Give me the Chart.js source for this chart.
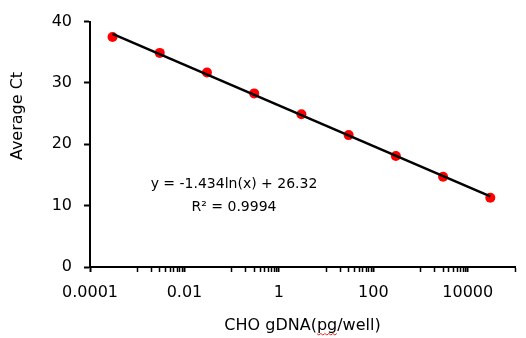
<!DOCTYPE html>
<html>
<head>
<meta charset="utf-8">
<script src="https://cdn.jsdelivr.net/npm/chart.js@4"></script>
<style>
  body { margin: 0; background: #fff; }
  #wrap { width: 526px; height: 338px; }
</style>
</head>
<body>
<div id="wrap"><canvas id="stdCurve" width="526" height="338"></canvas></div>
<script>
// CHO gDNA amount per well (pg) and measured average Ct
const gdnaAmounts = [0.0003, 0.003, 0.03, 0.3, 3, 30, 300, 3000, 30000];
const avgCt = [37.5, 34.9, 31.7, 28.3, 24.9, 21.5, 18.1, 14.7, 11.3];

// trendline ends as drawn on the chart
const trendX = [0.0003, 30000];
const trendY = [38.0, 11.5];

// axis ticks
const xMajorTicks = [0.0001, 0.01, 1, 100, 10000];
const xTickLabels = ["0.0001", "0.01", "1", "100", "10000"];
const xMinorTicks = [
  0.001, 0.002, 0.003, 0.004, 0.005, 0.006, 0.007, 0.008, 0.009,
  0.1, 0.2, 0.3, 0.4, 0.5, 0.6, 0.7, 0.8, 0.9,
  10, 20, 30, 40, 50, 60, 70, 80, 90,
  1000, 2000, 3000, 4000, 5000, 6000, 7000, 8000, 9000,
  100000,
];
const yTicks = [0, 10, 20, 30, 40];

const eqLines = ["y = -1.434ln(x) + 26.32", "R\u00b2 = 0.9994"];
const xTitle = "CHO gDNA(pg/well)";
const yTitle = "Average Ct";

const FONT = "'DejaVu Sans', Verdana, sans-serif";

// draws the axis titles and the fit equation
const textPlugin = {
  id: "textPlugin",
  afterDraw(chart) {
    const ctx = chart.ctx;
    const area = chart.chartArea;
    ctx.save();
    ctx.fillStyle = "#000";
    ctx.textAlign = "center";
    ctx.textBaseline = "alphabetic";
    ctx.font = "14px " + FONT;
    ctx.fillText(eqLines[0], 234, 188);
    ctx.fillText(eqLines[1], 234, 211);

    ctx.font = "16px " + FONT;
    const cx = (area.left + area.right) / 2;
    ctx.fillText(xTitle, cx, 330);

    // red spell-check squiggle under "pg"
    const w = ctx.measureText(xTitle).width;
    const pre = ctx.measureText("CHO gDNA(").width;
    const pg = ctx.measureText("pg").width;
    const sx = cx - w / 2 + pre;
    ctx.strokeStyle = "#e03030";
    ctx.lineWidth = 1;
    ctx.beginPath();
    for (let x = 0; x <= pg; x += 2) {
      const y = 333.5 + (Math.floor(x / 2) % 2 === 0 ? 0 : 1.5);
      if (x === 0) ctx.moveTo(sx + x, y);
      else ctx.lineTo(sx + x, y);
    }
    ctx.stroke();

    ctx.translate(22, 116);
    ctx.rotate(-Math.PI / 2);
    ctx.fillText(yTitle, 0, 0);
    ctx.restore();
  },
};

const ctx = document.getElementById("stdCurve").getContext("2d");
new Chart(ctx, {
  type: "scatter",
  data: {
    datasets: [
      {
        label: "Trend",
        data: trendX.map((x, i) => ({ x: x, y: trendY[i] })),
        showLine: true,
        borderColor: "#000",
        borderWidth: 2.5,
        pointRadius: 0,
        order: 0,
      },
      {
        label: "Average Ct",
        data: gdnaAmounts.map((x, i) => ({ x: x, y: avgCt[i] })),
        backgroundColor: "#ff0000",
        borderColor: "#ff0000",
        pointRadius: 5,
        pointBorderWidth: 0,
        order: 1,
      },
    ],
  },
  options: {
    responsive: false,
    animation: false,
    layout: { padding: { top: 19, right: 9, left: 0, bottom: 0 } },
    plugins: {
      legend: { display: false },
      tooltip: { enabled: false },
    },
    scales: {
      x: {
        type: "logarithmic",
        min: 0.0001,
        max: 100000,
        afterBuildTicks(scale) {
          const all = xMajorTicks.concat(xMinorTicks).sort((a, b) => a - b);
          scale.ticks = all.map((v) => ({ value: v, major: xMajorTicks.includes(v) }));
        },
        afterFit(scale) {
          scale.height = 71;
        },
        border: { display: true, color: "#000", width: 2 },
        grid: {
          drawOnChartArea: false,
          drawTicks: true,
          tickLength: 5,
          tickColor: "#000",
          tickWidth: (c) => (c.tick && c.tick.major ? 2 : 1.5),
        },
        ticks: {
          autoSkip: false,
          maxRotation: 0,
          padding: 11,
          color: "#000",
          font: { family: FONT, size: 16 },
          callback: (value) => {
            const i = xMajorTicks.indexOf(value);
            return i >= 0 ? xTickLabels[i] : "";
          },
        },
      },
      y: {
        min: 0,
        max: 40,
        afterBuildTicks(scale) {
          scale.ticks = yTicks.map((v) => ({ value: v }));
        },
        afterFit(scale) {
          scale.width = 90;
        },
        border: { display: true, color: "#000", width: 2 },
        grid: {
          drawOnChartArea: false,
          drawTicks: true,
          tickLength: 6,
          tickColor: "#000",
          tickWidth: 2,
        },
        ticks: {
          padding: 12,
          color: "#000",
          font: { family: FONT, size: 16 },
        },
      },
    },
  },
  plugins: [textPlugin],
});
</script>
</body>
</html>
